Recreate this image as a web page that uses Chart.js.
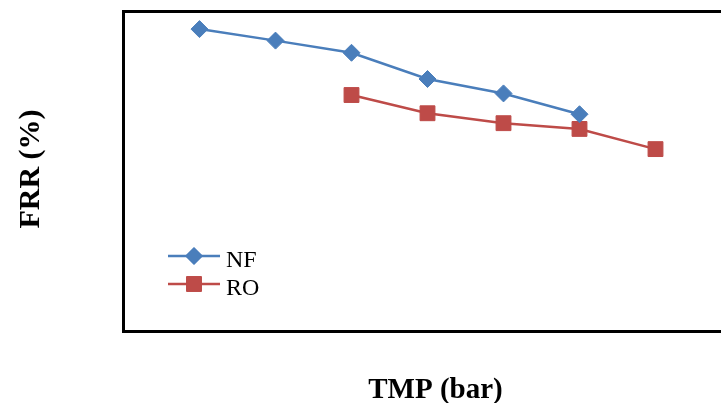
<!DOCTYPE html>
<html>
<head>
<meta charset="utf-8">
<script src="https://cdn.jsdelivr.net/npm/chart.js@4.4.1/dist/chart.umd.min.js"></script>
<style>
  html, body { margin: 0; padding: 0; background: #fff; overflow: hidden; }
  #wrap { width: 740px; height: 403px; }
</style>
</head>
<body>
<div id="wrap"><canvas id="frrChart" width="740" height="403"></canvas></div>
<script>
// TMP positions (no tick labels shown on the original)
let tmpNF = [1, 2, 3, 4, 5, 6];
let tmpRO = [3, 4, 5, 6, 7];
// FRR (%)
let frrNF = [94.5, 90.9, 87.1, 78.9, 74.4, 67.9];
let frrRO = [73.9, 68.2, 65.1, 63.3, 57.0];

let blue = "#4a7ebb";
let red = "#be4b48";

function pts(xs, ys) {
  return xs.map((x, i) => ({ x: x, y: ys[i] }));
}

// frame, titles and legend drawn on the canvas
let decor = {
  id: "decor",
  afterDraw(chart) {
    let ctx = chart.ctx;
    let a = chart.chartArea;
    ctx.save();
    ctx.strokeStyle = "#000";
    ctx.lineWidth = 3;
    ctx.strokeRect(a.left, a.top, a.right - a.left, a.bottom - a.top);

    ctx.fillStyle = "#000";
    ctx.font = "bold 29px 'Liberation Serif'";
    ctx.textAlign = "center";
    ctx.textBaseline = "alphabetic";
    ctx.fillText("TMP (bar)", 435.5, 397.5);

    ctx.save();
    ctx.translate(38.5, 169);
    ctx.rotate(-Math.PI / 2);
    ctx.font = "bold 30px 'Liberation Serif'";
    ctx.fillText("FRR (%)", 0, 0);
    ctx.restore();

    // legend
    let rows = [
      { label: "NF", color: blue, style: "rectRot", r: 8.5, y: 256 },
      { label: "RO", color: red, style: "rect", r: 10.5, y: 284 }
    ];
    ctx.font = "24px 'Liberation Serif'";
    ctx.textAlign = "left";
    rows.forEach(row => {
      ctx.strokeStyle = row.color;
      ctx.lineWidth = 2.5;
      ctx.beginPath();
      ctx.moveTo(168, row.y);
      ctx.lineTo(220, row.y);
      ctx.stroke();
      ctx.fillStyle = row.color;
      ctx.lineWidth = 1;
      Chart.helpers.drawPoint(ctx, { pointStyle: row.style, radius: row.r, rotation: 0, borderWidth: 1 }, 194, row.y);
      ctx.fill();
      ctx.fillStyle = "#000";
      ctx.fillText(row.label, 226, row.y + 10.5);
    });
    ctx.restore();
  }
};

new Chart(document.getElementById("frrChart"), {
  type: "line",
  data: {
    datasets: [
      {
        label: "NF",
        data: pts(tmpNF, frrNF),
        borderColor: blue,
        backgroundColor: blue,
        borderWidth: 2.5,
        pointStyle: "rectRot",
        pointRadius: 8.5,
        pointBorderWidth: 1,
        tension: 0
      },
      {
        label: "RO",
        data: pts(tmpRO, frrRO),
        borderColor: red,
        backgroundColor: red,
        borderWidth: 2.5,
        pointStyle: "rect",
        pointRadius: 10.5,
        pointBorderWidth: 1,
        tension: 0
      }
    ]
  },
  options: {
    responsive: false,
    animation: false,
    devicePixelRatio: 1,
    layout: { autoPadding: false, padding: { left: 123.5, top: 11.5, right: 740 - 731.5, bottom: 403 - 331.5 } },
    plugins: { legend: { display: false }, tooltip: { enabled: false } },
    scales: {
      x: { type: "linear", min: 0, max: 8, display: false },
      y: { type: "linear", min: 0, max: 100, display: false }
    }
  },
  plugins: [decor]
});
</script>
</body>
</html>
